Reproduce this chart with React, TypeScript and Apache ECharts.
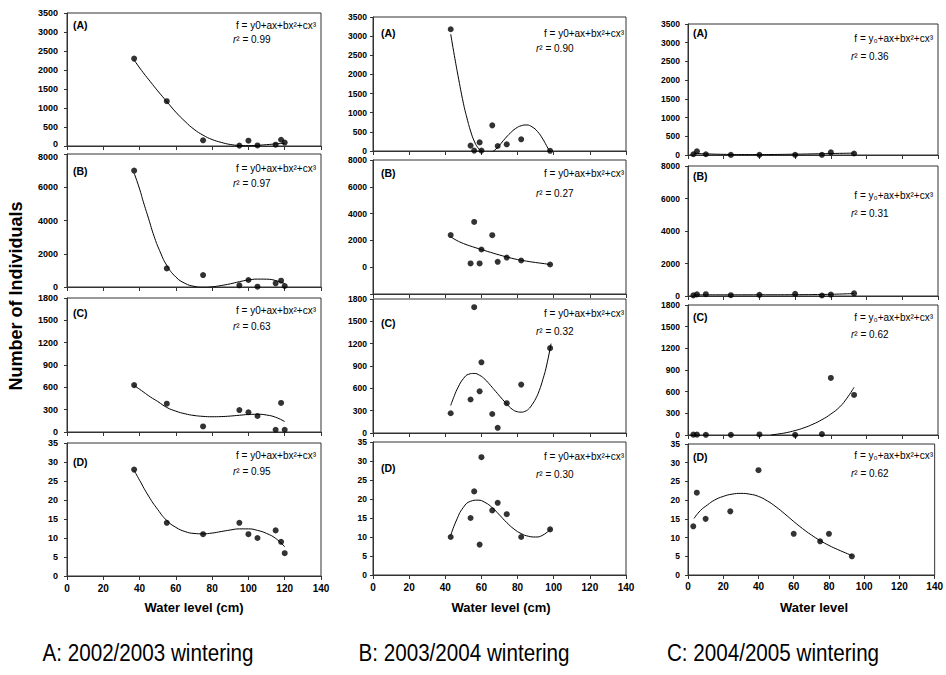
import React, { useEffect, useRef } from 'react';
import * as echarts from 'echarts';

// ---------- data ----------
// Column A: 2002/2003 wintering
const xA = [37, 55, 75, 95, 100, 105, 115, 118, 120];
const yA_A = [2300, 1180, 150, 10, 140, 15, 35, 165, 90];
const yA_B = [7000, 1120, 720, 100, 420, 20, 220, 380, 60];
const yA_C = [630, 380, 75, 295, 265, 215, 30, 390, 30];
const yA_D = [28, 14, 11, 14, 11, 10, 12, 9, 6];

const fitA_A_x = [37, 42, 46, 50, 55, 60, 65, 70, 75, 80, 85, 90, 95, 100, 105, 110, 115, 120];
const fitA_A_y = [2260, 1930, 1690, 1450, 1170, 890, 650, 440, 285, 170, 95, 40, 15, 10, 18, 35, 55, 70];
const fitA_B_x = [37, 40, 42, 45, 48, 51, 55, 60, 65, 70, 75, 80, 85, 90, 95, 100, 105, 110, 115, 120];
const fitA_B_y = [6850, 5900, 5150, 4100, 3050, 2200, 1300, 600, 220, 40, -20, 10, 90, 190, 320, 420, 475, 470, 390, 200];
const fitA_C_x = [37, 42, 46, 50, 55, 60, 65, 70, 75, 80, 85, 90, 95, 100, 105, 110, 115, 120];
const fitA_C_y = [625, 540, 470, 410, 330, 280, 245, 222, 210, 205, 207, 214, 225, 235, 238, 228, 198, 140];
const fitA_D_x = [37, 40, 45, 50, 55, 60, 65, 70, 75, 80, 85, 90, 95, 100, 105, 110, 115, 120];
const fitA_D_y = [27.8, 25.2, 21.0, 17.5, 14.6, 12.8, 11.7, 11.2, 11.1, 11.3, 11.7, 12.1, 12.4, 12.4, 12.0, 11.2, 9.9, 7.7];

// Column B: 2003/2004 wintering
const xB = [43, 54, 56, 59, 60, 66, 69, 74, 82, 98];
const yB_A = [3180, 140, 10, 225, 10, 670, 130, 175, 305, 5];
const yB_B = [2400, 280, 3380, 280, 1320, 2390, 400, 720, 500, 200];
const yB_C = [265, 450, 1690, 560, 950, 255, 70, 400, 650, 1140];
const yB_D = [10, 15, 22, 8, 31, 17, 19, 16, 10, 12];

const fitB_A_x = [43, 45, 47, 50, 52, 54, 56, 58, 60, 62, 64, 66, 68, 70, 73, 76, 79, 82, 85, 88, 91, 94, 96, 98];
const fitB_A_y = [3050, 2500, 1980, 1250, 860, 520, 260, 90, 0, -45, -50, -20, 50, 150, 320, 470, 590, 660, 680, 630, 510, 310, 140, -30];
const fitB_B_x = [43, 46, 50, 55, 60, 65, 70, 75, 80, 85, 90, 95, 98];
const fitB_B_y = [2270, 2020, 1770, 1530, 1320, 1110, 910, 730, 570, 450, 350, 260, 200];
const fitB_C_x = [43, 45, 47, 50, 53, 56, 59, 62, 65, 68, 71, 74, 77, 80, 82, 84, 86, 88, 90, 92, 94, 96, 98.5];
const fitB_C_y = [370, 500, 610, 730, 790, 800, 775, 720, 640, 555, 470, 390, 320, 285, 280, 290, 320, 380, 460, 570, 720, 900, 1200];
const fitB_D_x = [43, 46, 50, 54, 58, 62, 66, 70, 74, 78, 82, 86, 90, 94, 98.5];
const fitB_D_y = [10.4, 14.2, 17.8, 19.4, 19.7, 19.1, 17.7, 15.8, 13.8, 12.1, 10.9, 10.2, 10.0, 10.5, 12.2];

// Column C: 2004/2005 wintering
const xC = [3, 5, 10, 24, 40, 60, 75, 80, 93];
const yC_A = [20, 100, 20, 3, 5, 5, 5, 70, 40];
const yC_B = [40, 100, 110, 50, 70, 130, 30, 90, 160];
const yC_C = [5, 5, 3, 2, 8, 3, 12, 790, 555];
const yC_D = [13, 22, 15, 17, 28, 11, 9, 11, 5];

const fitC_A_x = [3, 10, 20, 30, 40, 50, 60, 70, 80, 93];
const fitC_A_y = [45, 30, 18, 12, 12, 15, 22, 30, 40, 50];
const fitC_B_x = [3, 20, 40, 60, 75, 85, 93];
const fitC_B_y = [70, 72, 75, 80, 95, 120, 150];
const fitC_C_x = [46.5, 50, 55, 60, 65, 70, 75, 80, 85, 89, 93];
const fitC_C_y = [0, 12, 32, 62, 100, 150, 212, 290, 390, 510, 660];
const fitC_D_x = [3.4, 7, 11, 15, 20, 25, 30, 35, 40, 45, 50, 55, 60, 65, 70, 75, 80, 85, 93];
const fitC_D_y = [15.1, 17.2, 18.7, 20.0, 21.0, 21.6, 21.8, 21.6, 21.0, 19.8, 18.2, 16.3, 14.3, 12.4, 10.7, 9.2, 7.9, 6.8, 5.2];

const r2A = ['0.99', '0.97', '0.63', '0.95'];
const r2B = ['0.90', '0.27', '0.32', '0.30'];
const r2C = ['0.36', '0.31', '0.62', '0.62'];

const panelLabels = ['(A)', '(B)', '(C)', '(D)'];
const yMaxes = [3500, 8000, 1800, 35];
const yIntervals = [500, 2000, 300, 5];
const xMax = 140;
const xInterval = 20;

const xTitles = ['Water level (cm)', 'Water level (cm)', 'Water level'];
const captions = ['A: 2002/2003 wintering', 'B: 2003/2004 wintering', 'C: 2004/2005 wintering'];
const formulaAB = 'f = y0+ax+bx\u00B2+cx\u00B3';
const formulaC = 'f = y\u2080+ax+bx\u00B2+cx\u00B3';
const yTitle = 'Number of Individuals';

// ---------- layout ----------
const FONT = '"Liberation Sans", Arial, Helvetica, sans-serif';
const zip = (xs: number[], ys: number[]) => xs.map((x, i) => [x, ys[i]]);

const cols = [
  {
    left: 67, width: 254, tops: [13, 154, 298, 443], heights: [133, 133, 134, 133],
    xs: xA, ys: [yA_A, yA_B, yA_C, yA_D],
    fx: [fitA_A_x, fitA_B_x, fitA_C_x, fitA_D_x], fy: [fitA_A_y, fitA_B_y, fitA_C_y, fitA_D_y],
    r2: r2A, formula: formulaAB, yFont: 9, yMargin: 9, xMargin: 7,
    labelX: 73, labelY: [25, 171, 313, 462],
    fRight: 316, fY: [25, 168, 310, 455], rX: 233, rY: [39, 183, 326, 471],
    titleX: 194,
  },
  {
    left: 373, width: 253, tops: [17, 160, 299, 442], heights: [134, 134, 134, 133],
    xs: xB, ys: [yB_A, yB_B, yB_C, yB_D],
    fx: [fitB_A_x, fitB_B_x, fitB_C_x, fitB_D_x], fy: [fitB_A_y, fitB_B_y, fitB_C_y, fitB_D_y],
    r2: r2B, formula: formulaAB, yFont: 8.5, yMargin: 6, xMargin: 7,
    labelX: 381, labelY: [33, 173, 323, 468],
    fRight: 624, fY: [33, 173, 313, 456], rX: 536, rY: [48, 193, 331, 474],
    titleX: 501,
  },
  {
    left: 688, width: 250, tops: [24, 166, 305, 444], heights: [131, 130, 130, 131],
    xs: xC, ys: [yC_A, yC_B, yC_C, yC_D],
    fx: [fitC_A_x, fitC_B_x, fitC_C_x, fitC_D_x], fy: [fitC_A_y, fitC_B_y, fitC_C_y, fitC_D_y],
    r2: r2C, formula: formulaC, yFont: 8.5, yMargin: 8, xMargin: 6,
    labelX: 693, labelY: [33, 176, 317, 457],
    fRight: 933, fY: [38, 195, 317, 455], rX: 851, rY: [56, 213, 334, 473],
    titleX: 814,
  },
];
const captionX = [148, 464, 773];

function buildOption() {
  const grid: any[] = [];
  const xAxis: any[] = [];
  const yAxis: any[] = [];
  const series: any[] = [];
  const graphic: any[] = [];
  const axisColor = '#333';

  cols.forEach((c, ci) => {
    for (let r = 0; r < 4; r++) {
      const idx = grid.length;
      grid.push({
        left: c.left, top: c.tops[r], width: c.width, height: c.heights[r],
        show: true, borderColor: axisColor, borderWidth: 1, backgroundColor: 'transparent',
      });
      xAxis.push({
        type: 'value', gridIndex: idx, min: 0, max: xMax, interval: xInterval,
        axisLine: { show: true, onZero: false, lineStyle: { color: axisColor, width: 1 } },
        axisTick: { show: true, length: 4, lineStyle: { color: axisColor } },
        splitLine: { show: false },
        axisLabel: {
          show: r === 3, fontSize: 10, fontWeight: 'bold', color: '#000',
          fontFamily: FONT, margin: c.xMargin,
        },
      });
      const yMin = ci === 1 && r === 1 ? -yIntervals[r] : 0;
      const richBase = { fontSize: c.yFont, fontWeight: 'bold', color: '#000', fontFamily: FONT };
      // In the tight first column, nudge the touching "0" / "8000" labels apart slightly
      const tight = ci === 0;
      yAxis.push({
        type: 'value', gridIndex: idx, min: yMin, max: yMaxes[r], interval: yIntervals[r],
        axisLine: { show: true, onZero: false, lineStyle: { color: axisColor, width: 1 } },
        axisTick: { show: true, length: 3, lineStyle: { color: axisColor } },
        splitLine: { show: false },
        axisLabel: {
          fontSize: c.yFont, fontWeight: 'bold', color: '#000', fontFamily: FONT,
          margin: c.yMargin,
          formatter: (v: number) => {
            if (v < 0) return '';
            if (tight && r === 0 && v === 0) return '{lo|0}';
            if (tight && r === 1 && v === yMaxes[1]) return '{hi|' + v + '}';
            return String(v);
          },
          rich: {
            lo: { ...richBase, padding: [0, 0, 5, 0] },
            hi: { ...richBase, padding: [5, 0, 0, 0] },
          },
        },
      });
      series.push({
        type: 'line', xAxisIndex: idx, yAxisIndex: idx,
        data: zip(c.fx[r], c.fy[r]), smooth: true, showSymbol: false, clip: true,
        lineStyle: { color: '#000', width: 1 }, silent: true, z: 2,
      });
      series.push({
        type: 'scatter', xAxisIndex: idx, yAxisIndex: idx,
        data: zip(c.xs, c.ys[r]), symbol: 'circle', symbolSize: 6,
        itemStyle: { color: '#000' }, silent: true, z: 3,
      });
      graphic.push({
        type: 'text', x: c.labelX, y: c.labelY[r],
        style: {
          text: panelLabels[r], fontSize: 10.5, fontWeight: 'bold', fontFamily: FONT,
          fill: '#000', textAlign: 'left', textVerticalAlign: 'middle',
        },
      });
      graphic.push({
        type: 'text', x: c.fRight, y: c.fY[r],
        style: {
          text: c.formula, fontSize: 10, fontFamily: FONT,
          fill: '#000', textAlign: 'right', textVerticalAlign: 'middle',
        },
      });
      graphic.push({
        type: 'text', x: c.rX, y: c.rY[r],
        style: {
          text: '{i|r}{n|\u00B2 = ' + c.r2[r] + '}',
          fill: '#000', textAlign: 'left', textVerticalAlign: 'middle',
          rich: {
            i: { fontSize: 10, fontStyle: 'italic', fontFamily: FONT, fill: '#000' },
            n: { fontSize: 10, fontFamily: FONT, fill: '#000' },
          },
        },
      });
    }
    graphic.push({
      type: 'text', x: c.titleX, y: 607,
      style: {
        text: xTitles[ci], fontSize: 13, fontWeight: 'bold', fontFamily: FONT,
        fill: '#000', textAlign: 'center', textVerticalAlign: 'middle',
      },
    });
    graphic.push({
      type: 'text', x: captionX[ci], y: 653, scaleX: 0.86,
      style: {
        text: captions[ci], fontSize: 24, fontFamily: FONT,
        fill: '#000', textAlign: 'center', textVerticalAlign: 'middle',
      },
    });
  });

  graphic.push({
    type: 'text', x: 16, y: 296, rotation: Math.PI / 2,
    style: {
      text: yTitle, fontSize: 18, fontWeight: 'bold', fontFamily: FONT,
      fill: '#000', textAlign: 'center', textVerticalAlign: 'middle',
    },
  });

  return {
    animation: false,
    backgroundColor: '#fff',
    grid, xAxis, yAxis, series, graphic,
  };
}

export default function App() {
  const ref = useRef<HTMLDivElement>(null);
  useEffect(() => {
    if (!ref.current) return;
    const chart = echarts.init(ref.current, null, { renderer: 'svg' });
    chart.setOption(buildOption() as any);
    return () => chart.dispose();
  }, []);
  return (
    <div
      ref={ref}
      style={{ position: 'absolute', left: 0, top: 0, width: 946, height: 675, background: '#fff' }}
    />
  );
}
